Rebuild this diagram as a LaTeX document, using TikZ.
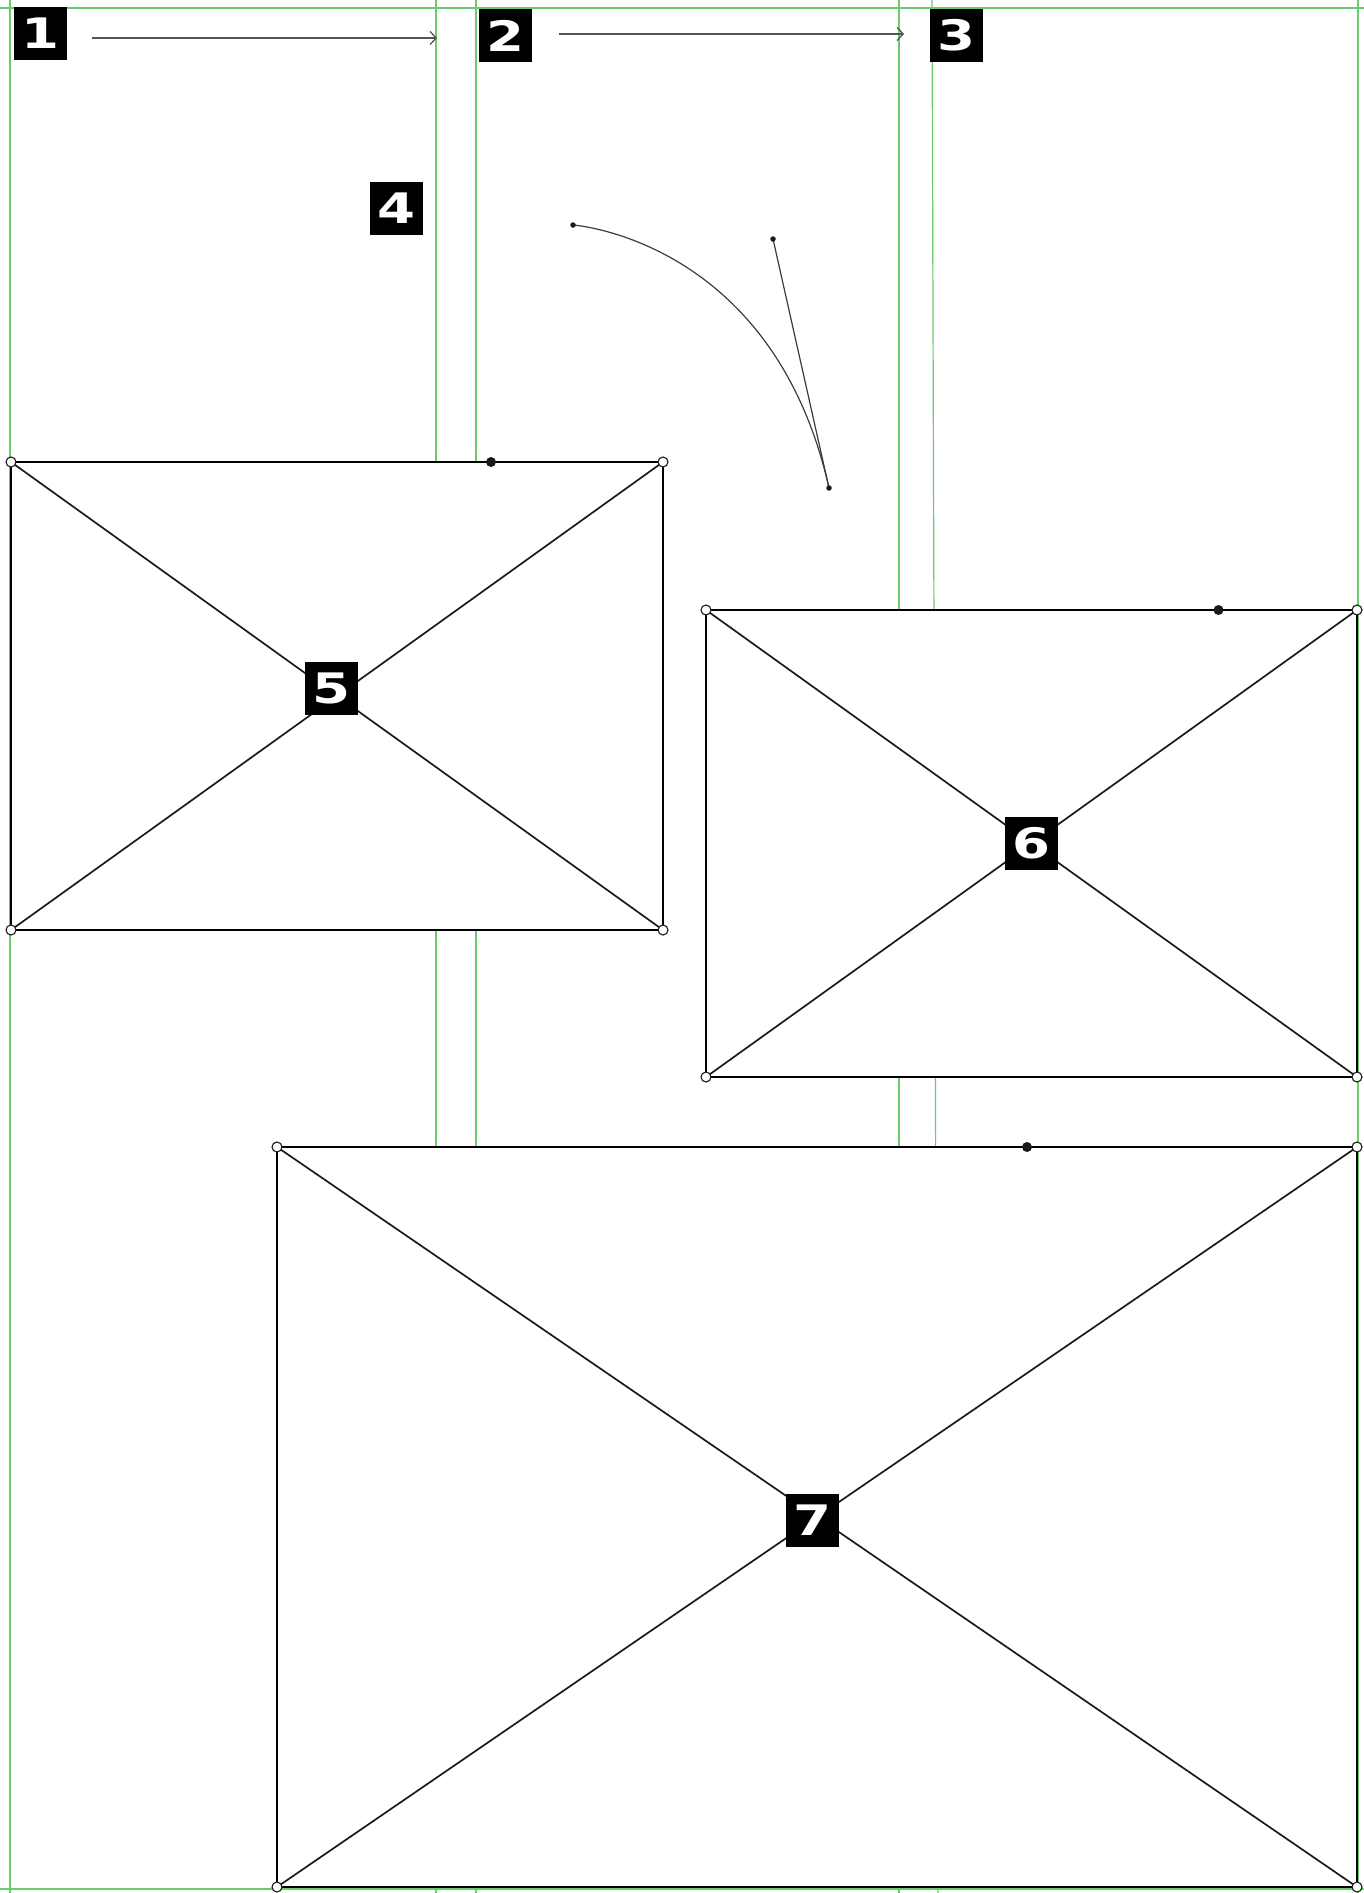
\documentclass[tikz,border=0pt]{standalone}
\usepackage{fontspec}
\newfontfamily\labfont[FakeStretch=1.3]{DejaVu Sans}
\usetikzlibrary{arrows.meta}
\definecolor{guidegreen}{HTML}{6CCB6C}
\definecolor{ink}{HTML}{1A1A1A}
\definecolor{flowgray}{HTML}{555555}
\begin{document}
\begin{tikzpicture}[x=1pt,y=-1pt,
  lab/.style={fill=black,text=white,minimum width=53pt,minimum height=53pt,inner sep=0pt,
              font=\labfont\bfseries\fontsize{42}{42}\selectfont},
  guide/.style={draw=guidegreen,line width=1.2pt},
  frame/.style={draw=black,fill=white,line width=2pt},
  diag/.style={draw=ink,line width=1.7pt},
  corner/.style={circle,draw=ink,fill=white,line width=1.1pt,inner sep=0pt,minimum size=10pt},
  knot/.style={circle,fill=ink,inner sep=0pt,minimum size=10pt},
  handle/.style={circle,fill=ink,inner sep=0pt,minimum size=5.5pt},
  flow/.style={draw=flowgray,line width=1.3pt,-{Straight Barb[length=6pt,width=13pt]}},
  curveline/.style={draw=ink!85,line width=1.2pt},
]
\useasboundingbox (0,0) rectangle (1364,1893);
\fill[white] (0,0) rectangle (1364,1893);

% guides
\draw[guide] (0,8) -- (1364,8);
\draw[guide] (0,1889) -- (1364,1889);
\draw[guide] (10,0) -- (10,1893);
\draw[guide] (436,0) -- (436,1893);
\draw[guide] (476,0) -- (476,1893);
\draw[guide] (899,0) -- (899,1893);
\draw[guide] (932,0) -- (938,1893);
\draw[guide] (1358,0) -- (1358,1893);

% top labels and arrows
\node[lab] (l1) at (40.5,33.5) {1};
\node[lab] (l2) at (505.5,35.5) {2};
\node[lab] (l3) at (956.5,35.5) {3};
\node[lab] (l4) at (396.5,208.5) {4};
\coordinate (a1s) at (92,38);
\coordinate (a1e) at (437,38);
\coordinate (a2s) at (559,34);
\coordinate (a2e) at (904,34);
\draw[flow] (a1s) -- (a1e);
\draw[flow] (a2s) -- (a2e);

% bezier with handle
\coordinate (c0) at (573,225);
\coordinate (c2) at (773,239);
\coordinate (c3) at (829,488);
\draw[curveline] (c0) .. controls (c0) and (c2) .. (c3);
\draw[curveline] (c2) -- (c3);
\node[handle] at (c0) {};
\node[handle] at (c2) {};
\node[handle] at (c3) {};

% rectangle 5
\coordinate (r5a) at (11,462);
\coordinate (r5b) at (663,462);
\coordinate (r5c) at (663,930);
\coordinate (r5d) at (11,930);
\draw[frame] (r5a) -- (r5b) -- (r5c) -- (r5d) -- cycle;
\draw[diag] (r5a) -- (r5c);
\draw[diag] (r5b) -- (r5d);
\node[lab] (l5) at (331.5,688.5) {5};
\foreach \c in {r5a,r5b,r5c,r5d} \node[corner] at (\c) {};
\node[knot] (k5) at (491,462) {};

% rectangle 6
\coordinate (r6a) at (706,610);
\coordinate (r6b) at (1357,610);
\coordinate (r6c) at (1357,1077);
\coordinate (r6d) at (706,1077);
\draw[frame] (r6a) -- (r6b) -- (r6c) -- (r6d) -- cycle;
\draw[diag] (r6a) -- (r6c);
\draw[diag] (r6b) -- (r6d);
\node[lab] (l6) at (1031.5,843.5) {6};
\foreach \c in {r6a,r6b,r6c,r6d} \node[corner] at (\c) {};
\node[knot] (k6) at (1218.5,610) {};

% rectangle 7
\coordinate (r7a) at (277,1147);
\coordinate (r7b) at (1357,1147);
\coordinate (r7c) at (1357,1887);
\coordinate (r7d) at (277,1887);
\draw[frame] (r7a) -- (r7b) -- (r7c) -- (r7d) -- cycle;
\draw[diag] (r7a) -- (r7c);
\draw[diag] (r7b) -- (r7d);
\node[lab] (l7) at (812,1520.5) {7};
\foreach \c in {r7a,r7b,r7c,r7d} \node[corner] at (\c) {};
\node[knot] (k7) at (1027,1147) {};
\end{tikzpicture}
\end{document}
